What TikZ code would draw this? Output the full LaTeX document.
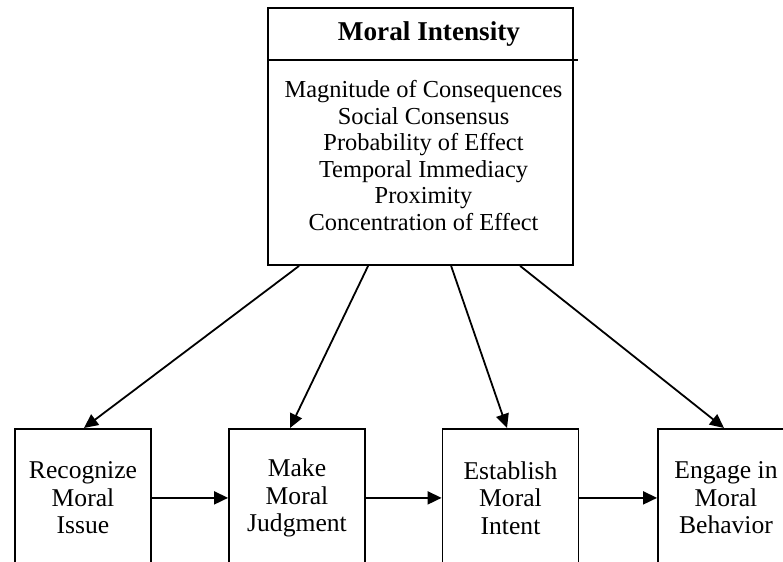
\documentclass[tikz,border=0pt]{standalone}
\usepackage{fontspec}
\setmainfont{Liberation Serif}
\usetikzlibrary{calc,arrows.meta,positioning}

\tikzset{
  stagebox/.style={draw, minimum width=68pt, minimum height=69pt, anchor=north, align=center, inner sep=0pt, font=\fontsize{12.8}{13.75}\selectfont},
  flow/.style={-{Triangle[length=7pt,width=6.5pt]}}
}

\begin{document}
\begin{tikzpicture}[x=0.5pt, y=-0.5pt, line width=0.9pt]
    \useasboundingbox (0,0) rectangle (783,562);
    \clip (0,0) rectangle (783,562);
    \node[draw, minimum width=152.5pt, minimum height=128.5pt, inner sep=0pt] (intensity) at (420.5,136.5) {};
    \node[font=\fontsize{13.6}{15}\selectfont\bfseries] (title) at (429,34) {Moral Intensity};
    \coordinate (split) at (0,60);
    \draw (intensity.west |- split) -- ([xshift=2pt]intensity.east |- split);
    \node[align=center, font=\fontsize{12.2}{13.3}\selectfont] (dims) at (423.5,155.5) {Magnitude of Consequences\\Social Consensus\\Probability of Effect\\Temporal Immediacy\\Proximity\\Concentration of Effect};
    \node[stagebox] (recognize) at (83,428) {Recognize\\Moral\\Issue};
    \node[stagebox] (judgment) at (297,428) {Make\\Moral\\Judgment};
    \node[stagebox] (intent) at (510.5,428) {Establish\\Moral\\Intent};
    \node[stagebox] (behavior) at (726,428) {Engage in\\Moral\\Behavior};
    \draw[flow] ($(intensity.south west)+(32,0)$) -- ($(recognize.north)+(1,0)$);
    \draw[flow] ($(intensity.south west)+(101,0)$) -- ($(judgment.north)+(-7,0)$);
    \draw[flow] ($(intensity.south west)+(184,0)$) -- ($(intent.north)+(-3.5,0)$);
    \draw[flow] ($(intensity.south west)+(253,0)$) -- ($(behavior.north)+(-2,0)$);
    \draw[flow] (recognize) -- (judgment);
    \draw[flow] (judgment) -- (intent);
    \draw[flow] (intent) -- (behavior);
\end{tikzpicture}
\end{document}
